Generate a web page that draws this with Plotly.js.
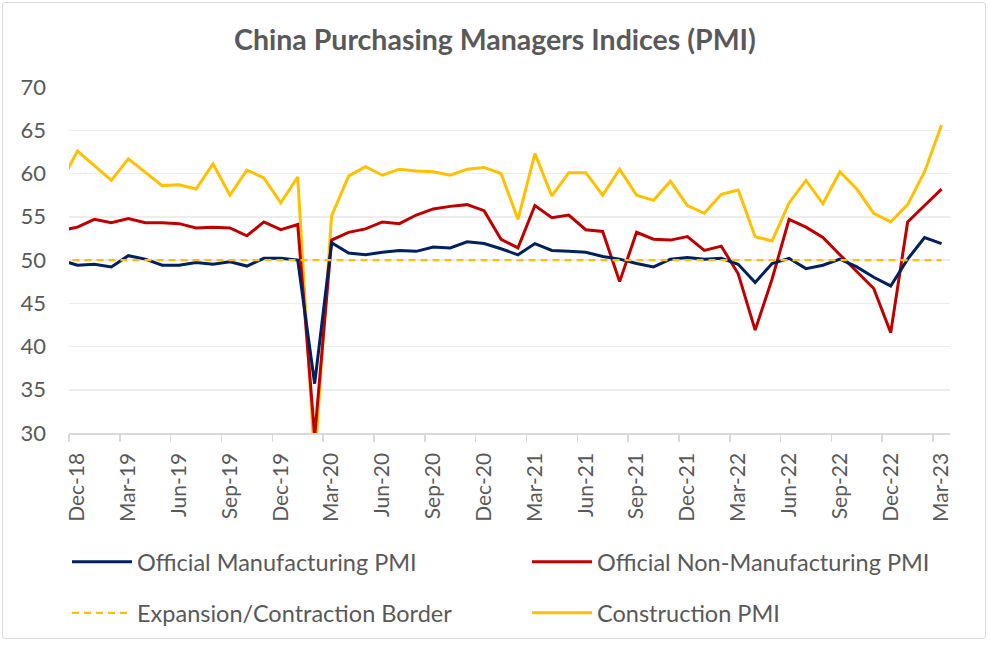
<!DOCTYPE html>
<html>
<head>
<meta charset="utf-8">
<script src="https://cdn.plot.ly/plotly-3.0.1.min.js"></script>
<style>
  html, body { margin: 0; padding: 0; background: #ffffff; }
  #wrap { position: relative; width: 990px; height: 646px; }
  #chart { position: absolute; left: 0; top: 0; width: 990px; height: 646px; }
  #frame { position: absolute; left: 2px; top: 2px; width: 982px; height: 635px;
           border: 1.5px solid #d9d9d9; border-radius: 3px; pointer-events: none; }
</style>
</head>
<body>
<div id="wrap"><div id="chart"></div><div id="frame"></div></div>
<script>
// Monthly categories (Nov-18 lies just left of the visible range; its segment is clipped at the plot edge)
const months = [
  'Nov-18','Dec-18',
  'Jan-19','Feb-19','Mar-19','Apr-19','May-19','Jun-19','Jul-19','Aug-19','Sep-19','Oct-19','Nov-19','Dec-19',
  'Jan-20','Feb-20','Mar-20','Apr-20','May-20','Jun-20','Jul-20','Aug-20','Sep-20','Oct-20','Nov-20','Dec-20',
  'Jan-21','Feb-21','Mar-21','Apr-21','May-21','Jun-21','Jul-21','Aug-21','Sep-21','Oct-21','Nov-21','Dec-21',
  'Jan-22','Feb-22','Mar-22','Apr-22','May-22','Jun-22','Jul-22','Aug-22','Sep-22','Oct-22','Nov-22','Dec-22',
  'Jan-23','Feb-23','Mar-23'
];

const manufacturingPMI = [
  50.0, 49.4,
  49.5, 49.2, 50.5, 50.1, 49.4, 49.4, 49.7, 49.5, 49.8, 49.3, 50.2, 50.2,
  50.0, 35.7, 52.0, 50.8, 50.6, 50.9, 51.1, 51.0, 51.5, 51.4, 52.1, 51.9,
  51.3, 50.6, 51.9, 51.1, 51.0, 50.9, 50.4, 50.1, 49.6, 49.2, 50.1, 50.3,
  50.1, 50.2, 49.5, 47.4, 49.6, 50.2, 49.0, 49.4, 50.1, 49.2, 48.0, 47.0,
  50.1, 52.6, 51.9
];

const nonManufacturingPMI = [
  53.4, 53.8,
  54.7, 54.3, 54.8, 54.3, 54.3, 54.2, 53.7, 53.8, 53.7, 52.8, 54.4, 53.5,
  54.1, 29.6, 52.3, 53.2, 53.6, 54.4, 54.2, 55.2, 55.9, 56.2, 56.4, 55.7,
  52.4, 51.4, 56.3, 54.9, 55.2, 53.5, 53.3, 47.5, 53.2, 52.4, 52.3, 52.7,
  51.1, 51.6, 48.4, 41.9, 47.8, 54.7, 53.8, 52.6, 50.6, 48.7, 46.7, 41.6,
  54.4, 56.3, 58.2
];

const constructionPMI = [
  58.9, 62.6,
  60.9, 59.2, 61.7, 60.2, 58.6, 58.7, 58.2, 61.1, 57.5, 60.4, 59.5, 56.6,
  59.6, 26.6, 55.1, 59.7, 60.8, 59.8, 60.5, 60.3, 60.2, 59.8, 60.5, 60.7,
  60.0, 54.7, 62.3, 57.4, 60.1, 60.1, 57.5, 60.5, 57.5, 56.9, 59.1, 56.3,
  55.4, 57.6, 58.1, 52.7, 52.2, 56.6, 59.2, 56.5, 60.2, 58.2, 55.4, 54.4,
  56.4, 60.2, 65.6
];

const borderLevel = [
  50, 50,
  50, 50, 50, 50, 50, 50, 50, 50, 50, 50, 50, 50,
  50, 50, 50, 50, 50, 50, 50, 50, 50, 50, 50, 50,
  50, 50, 50, 50, 50, 50, 50, 50, 50, 50, 50, 50,
  50, 50, 50, 50, 50, 50, 50, 50, 50, 50, 50, 50,
  50, 50, 50
];

const tickLabels = ['Dec-18','Mar-19','Jun-19','Sep-19','Dec-19','Mar-20','Jun-20','Sep-20','Dec-20',
                    'Mar-21','Jun-21','Sep-21','Dec-21','Mar-22','Jun-22','Sep-22','Dec-22','Mar-23'];

const seriesNames = ['Official Manufacturing PMI', 'Official Non-Manufacturing PMI',
                     'Expansion/Contraction Border', 'Construction PMI'];

// category positions
const xPos = months.map((m, i) => i);
const tickPos = tickLabels.map(l => months.indexOf(l));
const boundaryPos = tickPos.map(p => p - 0.5);
const xRange = [months.indexOf('Dec-18') - 0.5, months.indexOf('Mar-23') + 0.5];

const TXT = '#595959';
const FONT = 'Lato, "Open Sans", sans-serif';

const traces = [
  { x: xPos, y: constructionPMI, name: seriesNames[3], type: 'scatter', mode: 'lines',
    line: { color: '#FFC000', width: 3 }, legend: 'legend4' },
  { x: xPos, y: nonManufacturingPMI, name: seriesNames[1], type: 'scatter', mode: 'lines',
    line: { color: '#C00000', width: 3 }, legend: 'legend2' },
  { x: xPos, y: manufacturingPMI, name: seriesNames[0], type: 'scatter', mode: 'lines',
    line: { color: '#002060', width: 3 }, legend: 'legend' },
  { x: xPos, y: borderLevel, name: seriesNames[2], type: 'scatter', mode: 'lines', xaxis: 'x2',
    line: { color: '#FFC000', width: 2.25, dash: '7px,5px' }, legend: 'legend3' }
];

function legendAt(px, py) {
  return {
    orientation: 'h', xref: 'container', yref: 'container', xanchor: 'left', yanchor: 'middle',
    x: px / 990, y: 1 - py / 646,
    font: { family: FONT, size: 23.5, color: TXT },
    itemwidth: 60, bgcolor: 'rgba(0,0,0,0)', borderwidth: 0
  };
}

const layout = {
  width: 990, height: 646,
  paper_bgcolor: '#ffffff', plot_bgcolor: '#ffffff',
  margin: { l: 69, r: 40, t: 87, b: 213, pad: 0 },
  hovermode: false,
  showlegend: true,
  title: {
    text: 'China Purchasing Managers Indices (PMI)',
    font: { family: FONT, size: 28.5, color: TXT, weight: 'bold' },
    xref: 'container', x: 0.5, xanchor: 'center',
    yref: 'container', y: 1 - 40 / 646, yanchor: 'middle'
  },
  xaxis: {
    range: xRange, tickmode: 'array', tickvals: tickPos, ticktext: tickLabels,
    tickangle: -90, ticks: '', showgrid: false, zeroline: false,
    showline: true, linecolor: '#D9D9D9', linewidth: 1.5,
    tickfont: { family: FONT, size: 21, color: TXT }, ticklabelstandoff: 10,
    fixedrange: true
  },
  xaxis2: {
    overlaying: 'x', anchor: 'y', side: 'bottom',
    range: xRange, tickmode: 'array', tickvals: boundaryPos,
    ticks: 'outside', ticklen: 8, tickwidth: 1.5, tickcolor: '#D9D9D9',
    showticklabels: false, showgrid: false, zeroline: false, showline: false,
    fixedrange: true
  },
  yaxis: {
    range: [30, 70], dtick: 5, tick0: 30, ticks: '',
    showgrid: true, gridcolor: '#EDEDED', gridwidth: 1.5, zeroline: false, showline: false,
    tickfont: { family: FONT, size: 22, color: TXT }, ticklabelstandoff: 22,
    fixedrange: true
  },
  legend: legendAt(67, 562),
  legend2: legendAt(527, 562),
  legend3: legendAt(67, 613),
  legend4: legendAt(527, 613)
};

Plotly.newPlot('chart', traces, layout, { displayModeBar: false, staticPlot: true });
</script>
</body>
</html>
